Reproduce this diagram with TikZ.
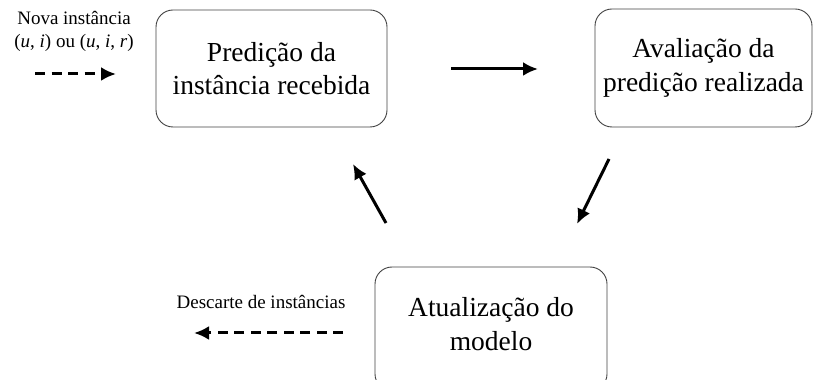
\documentclass[tikz,border=0pt]{standalone}
\usepackage{fontspec}
\setmainfont{Liberation Serif}
\usetikzlibrary{arrows.meta}
\begin{document}
\begin{tikzpicture}[>={Latex[length=15bp,width=14bp]},line join=bevel,
  box/.style={draw=black!75,line width=0.9bp,rounded corners=17bp,align=center,
    font=\fontsize{27.5bp}{33.5bp}\selectfont,inner sep=0pt},
  small/.style={align=center,font=\fontsize{19bp}{23bp}\selectfont,inner sep=0pt},
  flow/.style={black,line width=3bp,->},
  dashflow/.style={flow,line width=3bp,dash pattern=on 10bp off 6.5bp},
]
\useasboundingbox (0bp,0bp) rectangle (813bp,380bp);
%%
\node (node_0) at (271.5bp,311.5bp) [box,minimum width=231bp,minimum height=117bp] {Predição da\\instância recebida};
  \node (node_1) at (703.5bp,312bp) [box,minimum width=217bp,minimum height=118bp] {Avaliação da\\predição realizada};
  \node (node_2) at (491bp,51bp) [box,minimum width=232bp,minimum height=124bp] {};
  \node (node_2t) at (491bp,56bp) [inner sep=0pt,align=center,font=\fontsize{27.5bp}{33.5bp}\selectfont] {Atualização do\\modelo};
  \node (in_lbl) at (74bp,349bp) [small] {Nova instância\\(\textit{u}, \textit{i}) ou (\textit{u}, \textit{i}, \textit{r})};
  \node (out_lbl) at (261bp,78bp) [small] {Descarte de instâncias};
  \coordinate (in_a) at (35bp,306bp);
  \coordinate (in_b) at (116bp,306bp);
  \coordinate (out_a) at (343bp,47bp);
  \coordinate (out_b) at (194bp,47bp);
  \coordinate (p01_a) at (451bp,311bp);
  \coordinate (p01_b) at (538bp,311bp);
  \coordinate (p12_a) at (609bp,221bp);
  \coordinate (p12_b) at (577bp,156bp);
  \coordinate (p20_a) at (386bp,157bp);
  \coordinate (p20_b) at (353bp,216bp);
  \draw [dashflow] (in_a) -- (in_b);
  \draw [flow] (p01_a) -- (p01_b);
  \draw [flow] (p12_a) -- (p12_b);
  \draw [flow] (p20_a) -- (p20_b);
  \draw [dashflow] (out_a) -- (out_b);
%
\end{tikzpicture}
\end{document}
